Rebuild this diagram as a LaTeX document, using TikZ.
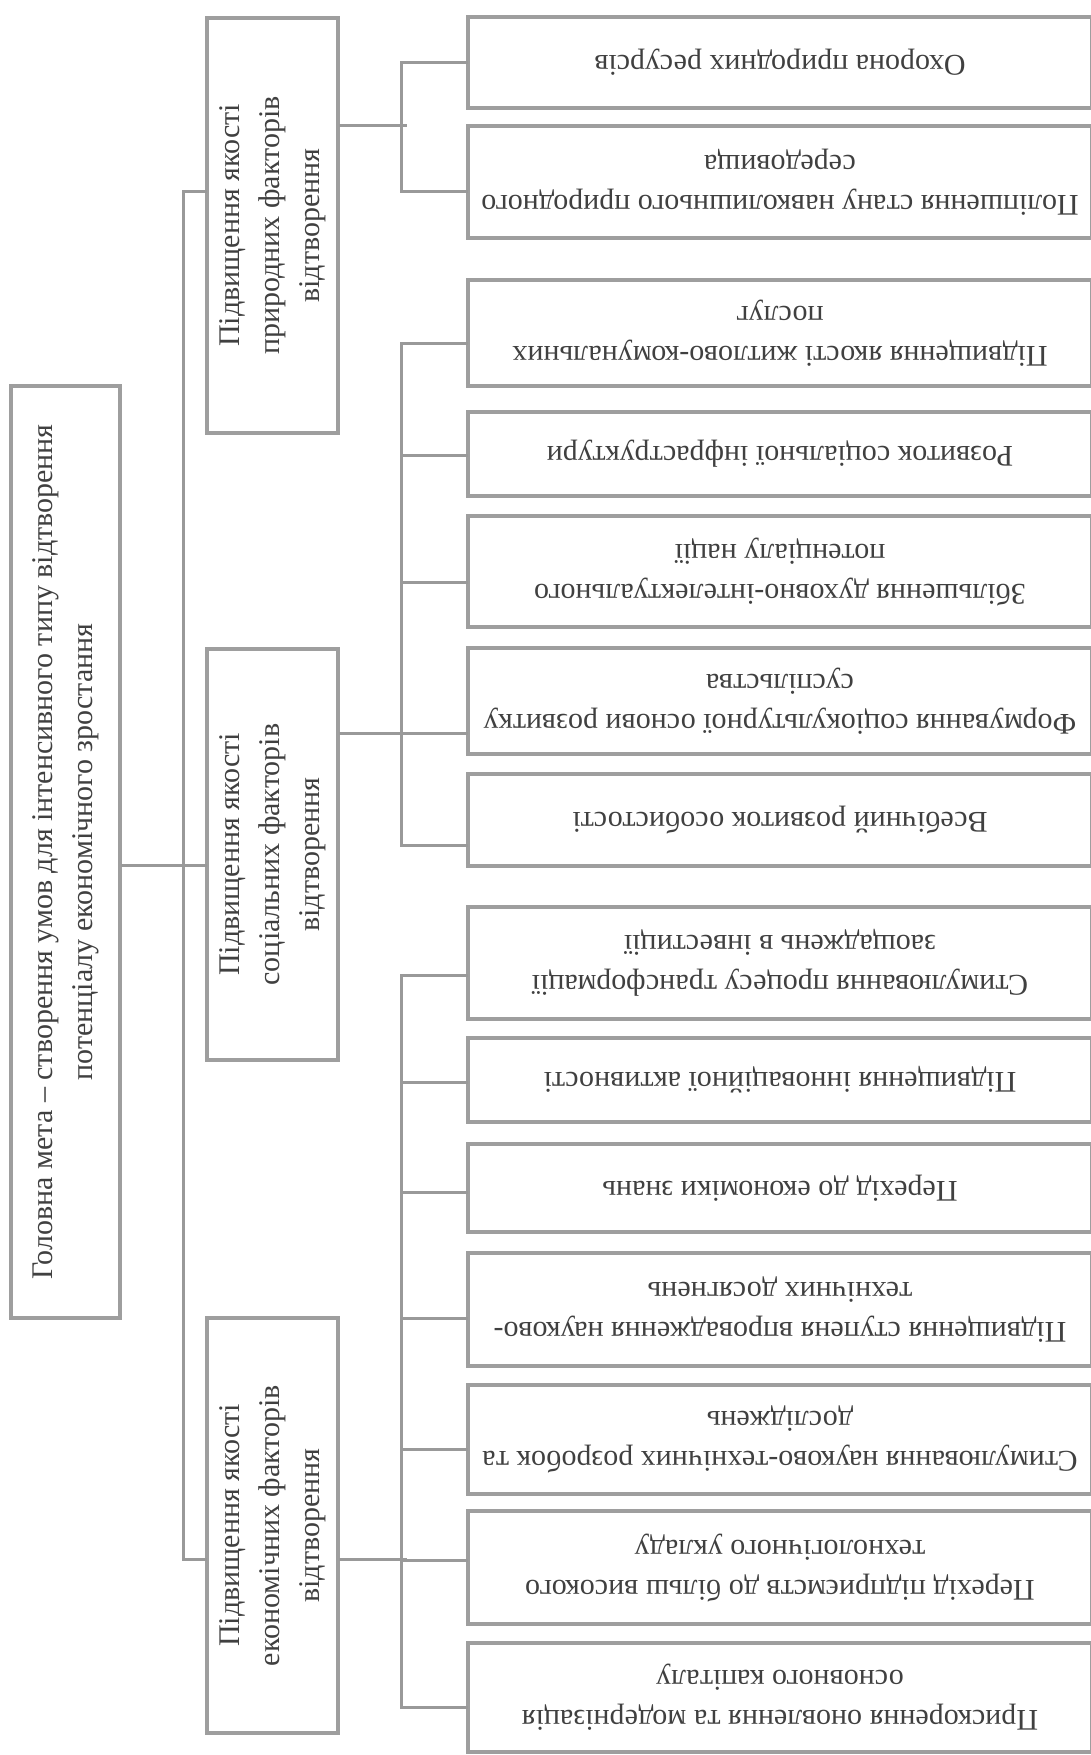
\documentclass[tikz,border=0pt]{standalone}
\usepackage{fontspec}
\setmainfont{Liberation Serif}
\usetikzlibrary{calc}

% text turned upside down (right boxes) and on its side (left boxes)
\newcommand{\upside}[1]{\rotatebox{180}{\parbox{300pt}{\centering #1}}}
\newcommand{\sideways}[2]{\rotatebox{90}{\parbox{#1}{\centering #2}}}

\begin{document}
\begin{tikzpicture}[x=0.5pt,y=-0.5pt,
    box/.style={draw=black!38,line width=2pt,inner sep=0pt,text=black!75,
        font=\fontsize{15}{20}\selectfont},
    item/.style={box,minimum width=312pt},
    group/.style={box,minimum width=65.5pt,minimum height=207.5pt},
    link/.style={draw=black!40,line width=1.5pt,line cap=rect}]
    \useasboundingbox (0,0) rectangle (1091,1755);
    \fill[white] (0,0) rectangle (1091,1755);

    % goal
    \node[box,minimum width=54.5pt,minimum height=466pt] (goal) at (65.5,852)
        {\sideways{462pt}{Головна мета – створення умов для інтенсивного типу відтворення\\потенціалу економічного зростання}};

    % groups of factors
    \node[group] (nat) at (272.5,225.5)
        {\sideways{200pt}{Підвищення якості\\природних факторів\\відтворення}};
    \node[group,minimum height=205.5pt] (soc) at (272.5,854.5)
        {\sideways{200pt}{Підвищення якості\\соціальних факторів\\відтворення}};
    \node[group] (eco) at (272.5,1525.5)
        {\sideways{200pt}{Підвищення якості\\економічних факторів\\відтворення}};

    % natural
    \node[item,minimum height=45.5pt] (b1) at (780,62.5) {\upside{Охорона природних ресурсів}};
    \node[item,minimum height=56pt] (b2) at (780,182) {\upside{Поліпшення стану навколишнього природного\\середовища}};
    % social
    \node[item,minimum height=53pt] (b3) at (780,333) {\upside{Підвищення якості житлово-комунальних\\послуг}};
    \node[item,minimum height=42pt] (b4) at (780,454) {\upside{Розвиток соціальної інфраструктури}};
    \node[item,minimum height=55.5pt] (b5) at (780,571.5) {\upside{Збільшення духовно-інтелектуального\\потенціалу нації}};
    \node[item,minimum height=53pt] (b6) at (780,701) {\upside{Формування соціокультурної основи розвитку\\суспільства}};
    \node[item,minimum height=46pt] (b7) at (780,820) {\upside{Всебічний розвиток особистості}};
    % economic
    \node[item,minimum height=56pt] (b8) at (780,963) {\upside{Стимулювання процесу трансформації\\заощаджень в інвестиції}};
    \node[item,minimum height=42pt] (b9) at (780,1080) {\upside{Підвищення інноваційної активності}};
    \node[item,minimum height=44pt] (b10) at (780,1188) {\upside{Перехід до економіки знань}};
    \node[item,minimum height=56.5pt] (b11) at (780,1309.5) {\upside{Підвищення ступеня впровадження науково-\\технічних досягнень}};
    \node[item,minimum height=54.5pt] (b12) at (780,1439.5) {\upside{Стимулювання науково-технічних розробок та\\досліджень}};
    \node[item,minimum height=56.5pt] (b13) at (780,1567.5) {\upside{Перехід підприємств до більш високого\\технологічного укладу}};
    \node[item,minimum height=54.5pt] (b14) at (780,1697.5) {\upside{Прискорення оновлення та модернізація\\основного капіталу}};

    % links
    \draw[link] ($(goal.east)+(0,13)$) -- ($(soc.west)+(0,10.5)$);
    \draw[link] ($(nat.west)+(0,-33.5)$) -- ++(-22,0) |- ($(eco.west)+(0,33.5)$);
    \draw[link] ($(nat.east)+(0,-99.5)$) -- ++(65,0);
    \draw[link] ($(soc.east)+(0,-121.5)$) -- ++(65,0);
    \draw[link] ($(eco.east)+(0,33.5)$) -- ++(65,0);
    \foreach \b/\o in {b1/0,b2/10,b3/10,b4/1,b5/10.5,b6/32,b7/25,b8/12,b9/2,b10/4,b11/8.5,b12/9.5,b13/-7.5,b14/9.5}
        \draw[link] ($(\b.west)+(0,\o)$) -- ++(-65,0) coordinate (s\b);
    \draw[link] (sb1) -- (sb2);
    \draw[link] (sb3) -- (sb7);
    \draw[link] (sb8) -- (sb14);
\end{tikzpicture}
\end{document}
